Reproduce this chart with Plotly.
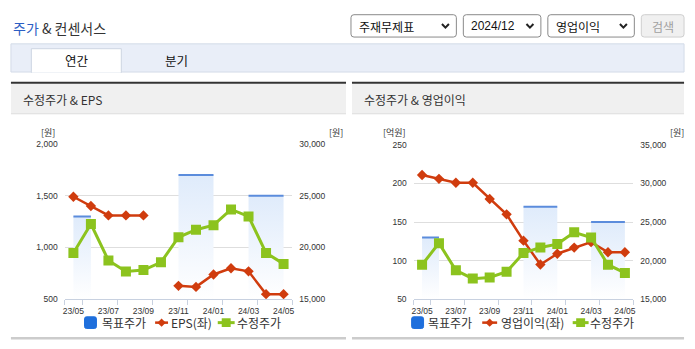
import plotly.graph_objects as go

FIG_W, FIG_H = 695, 349

# ---- data -------------------------------------------------------------
months = ["23/05", "23/06", "23/07", "23/08", "23/09", "23/10", "23/11",
          "23/12", "24/01", "24/02", "24/03", "24/04", "24/05"]
adj_price = [19480, 22270, 18750, 17680, 17820, 18570, 20990,
             21720, 22150, 23680, 23000, 19480, 18420]
eps = [1490, 1400, 1310, 1310, 1310, None, 630,
       620, 740, 800, 770, 550, 550]
op_profit = [211, 206, 201, 201, 180, 160, 126,
             95, 109, 117, 124, 111, 111]

# target price periods (from month, to month, price)
target_start = ["23/05", "23/11", "24/03"]
target_end = ["23/06", "24/01", "24/05"]
target_price = [23000, 27000, 25000]

eps_ticks = [500, 1000, 1500, 2000]
price_ticks_a = [15000, 20000, 25000, 30000]
op_ticks = [50, 100, 150, 200, 250]
price_ticks_b = [15000, 20000, 25000, 30000, 35000]

RED = "#d03c0e"
GREEN = "#8cc31e"
BLUE_LINE = "#5b8cdc"
BLUE_KEY = "#1f6fdc"
TXT = "#333333"
KR = "Noto Sans CJK KR"
NUM = "Liberation Sans, Arial"


def px(x):
    return x / FIG_W


def py(y):
    return 1 - y / FIG_H


idx = list(range(len(months)))
pos = {m: i for i, m in enumerate(months)}

fig = go.Figure()


def add_chart(xa, ya_bars, ya_left, ya_price, left_vals, price_min):
    # target price periods on the base (price) axis, drawn first
    for s, e, p in zip(target_start, target_end, target_price):
        x0, x1 = pos[s], pos[e]
        fig.add_trace(go.Scatter(
            x=[x0, x0, x1, x1, x0], y=[price_min, p, p, price_min, price_min],
            fill="toself", mode="lines", line=dict(width=0),
            fillgradient=dict(type="vertical",
                              colorscale=[[0, "rgba(255,255,255,1)"],
                                          [1, "rgba(223,235,251,1)"]]),
            xaxis=xa, yaxis=ya_bars, showlegend=False, hoverinfo="skip"))
        fig.add_trace(go.Scatter(
            x=[x0, x1], y=[p, p], mode="lines",
            line=dict(color=BLUE_LINE, width=2),
            xaxis=xa, yaxis=ya_bars, showlegend=False, hoverinfo="skip"))
    # left-axis series on the first overlay
    fig.add_trace(go.Scatter(
        x=idx, y=left_vals, mode="lines+markers",
        line=dict(color=RED, width=2.5),
        marker=dict(symbol="diamond", size=8, color=RED),
        xaxis=xa, yaxis=ya_left, showlegend=False))
    # adjusted price on the top overlay
    fig.add_trace(go.Scatter(
        x=idx, y=adj_price, mode="lines+markers",
        line=dict(color=GREEN, width=3),
        marker=dict(symbol="square", size=10, color=GREEN),
        xaxis=xa, yaxis=ya_price, showlegend=False))


add_chart("x", "y", "y2", "y3", eps, price_ticks_a[0])
add_chart("x2", "y4", "y5", "y6", op_profit, price_ticks_b[0])

tickfont = dict(family=NUM, size=8.5, color=TXT)
boundaries = [-0.5] + [i + 0.5 for i in idx[::2]]


def xaxis_cfg(domain, anchor):
    return dict(domain=domain, anchor=anchor, range=[-0.5, len(months) - 0.5],
                tickmode="array", tickvals=idx[::2], ticktext=months[::2],
                ticks="", showline=True, linecolor="#c8d1e0", linewidth=1,
                showgrid=False, zeroline=False, tickfont=tickfont,
                ticklabelstandoff=3,
                minor=dict(tickmode="array", tickvals=boundaries,
                           ticks="outside", ticklen=5, tickcolor="#c8d1e0",
                           showgrid=False),
                fixedrange=True)


def yaxis_cfg(domain, anchor, ticks, **kw):
    d = dict(domain=domain, anchor=anchor, range=[ticks[0], ticks[-1]],
             tickmode="array", tickvals=ticks,
             ticktext=[f"{t:,}" for t in ticks], ticks="",
             showline=False, zeroline=False, tickfont=tickfont,
             ticklabelstandoff=6, fixedrange=True, showgrid=False)
    d.update(kw)
    return d


dom_a = [py(303), py(143)]
dom_b = [py(303), py(144)]
fig.update_layout(
    width=FIG_W, height=FIG_H, margin=dict(l=0, r=0, t=0, b=0),
    paper_bgcolor="white", plot_bgcolor="rgba(0,0,0,0)",
    showlegend=False,
    xaxis=xaxis_cfg([px(63), px(292)], "y"),
    yaxis=yaxis_cfg(dom_a, "x", price_ticks_a, side="right"),
    yaxis2=yaxis_cfg(dom_a, "x", eps_ticks, overlaying="y", side="left",
                     showgrid=True, gridcolor="#dedede", gridwidth=1),
    yaxis3=yaxis_cfg(dom_a, "x", price_ticks_a, overlaying="y", visible=False),
    xaxis2=xaxis_cfg([px(414), px(635)], "y4"),
    yaxis4=yaxis_cfg(dom_b, "x2", price_ticks_b, side="right"),
    yaxis5=yaxis_cfg(dom_b, "x2", op_ticks, overlaying="y4", side="left",
                     showgrid=True, gridcolor="#dedede", gridwidth=1),
    yaxis6=yaxis_cfg(dom_b, "x2", price_ticks_b, overlaying="y4", visible=False),
)

shapes = []
annots = []


def rect(x0, y0, x1, y1, fill, line=None, lw=1, layer="below"):
    shapes.append(dict(type="rect", xref="paper", yref="paper",
                       x0=px(x0), x1=px(x1), y0=py(y1), y1=py(y0),
                       fillcolor=fill,
                       line=dict(color=line or fill, width=lw if line else 0),
                       layer=layer))


def hline(x0, x1, y, color, w):
    shapes.append(dict(type="line", xref="paper", yref="paper",
                       x0=px(x0), x1=px(x1), y0=py(y), y1=py(y),
                       line=dict(color=color, width=w)))


def P(x, y):
    return f"{px(x):.5f},{py(y):.5f}"


def rrect(x0, y0, x1, y1, r, fill, line):
    path = (f"M {P(x0 + r, y0)} L {P(x1 - r, y0)} Q {P(x1, y0)} {P(x1, y0 + r)} "
            f"L {P(x1, y1 - r)} Q {P(x1, y1)} {P(x1 - r, y1)} "
            f"L {P(x0 + r, y1)} Q {P(x0, y1)} {P(x0, y1 - r)} "
            f"L {P(x0, y0 + r)} Q {P(x0, y0)} {P(x0 + r, y0)} Z")
    shapes.append(dict(type="path", xref="paper", yref="paper", path=path,
                       fillcolor=fill, line=dict(color=line, width=1)))


def chevron(cx, cy):
    shapes.append(dict(type="path", xref="paper", yref="paper",
                       path=f"M {P(cx - 3.5, cy - 2)} L {P(cx, cy + 1.8)} L {P(cx + 3.5, cy - 2)}",
                       line=dict(color="#222", width=2)))


def text(x, y, s, size, color=TXT, family=KR, anchor="left"):
    annots.append(dict(x=px(x), y=py(y), xref="paper", yref="paper", text=s,
                       showarrow=False, xanchor=anchor, yanchor="middle",
                       font=dict(family=family, size=size, color=color)))


# page title
text(9, 24, '<span style="color:#2c5ec4">주가</span> & 컨센서스', 14)

# selectors
for (x0, x1, label, fam) in [(351, 457, "주재무제표", KR), (464, 542, "2024/12", NUM),
                             (549, 636, "영업이익", KR)]:
    rrect(x0, 10, x1, 33, 3, "white", "#8a8a8a")
    text(x0 + 6, 22, label, 12, "#111", fam)
    chevron(x1 - 11, 21.5)
rrect(643, 10, 686, 33, 3, "#f0f0f0", "#cfcfcf")
text(664.5, 22, "검색", 12, "#a0a0a0", KR, "center")

# period tabs
rect(9, 40, 686, 69, "#e9eef8", "#d3dbe8")
rect(29.5, 45, 120, 69.5, "white", "#cdd5e2")
hline(30, 119.5, 69.2, "white", 1)
text(75, 57, "연간", 12.5, "#111", KR, "center")
text(176, 57, "분기", 12.5, "#111", KR, "center")

# panel frames
for (x0, x1, title) in [(9, 346, "수정주가 & EPS"), (352, 686, "수정주가 & 영업이익")]:
    rect(x0, 81, x1, 112, "#f0f0f0")
    hline(x0, x1, 112, "#dddddd", 1)
    hline(x0, x1, 80, "#333333", 2)
    hline(x0, x1, 343, "#cccccc", 2.5)
    text(x0 + 10, 97.5, title, 12)

# axis unit labels
text(46, 131, "[원]", 9, anchor="center")
text(336, 131, "[원]", 9, anchor="center")
text(394.5, 131, "[억원]", 9, anchor="center")
text(679, 131, "[원]", 9, anchor="center")


# legends
def diamond(cx, cy, r, color):
    shapes.append(dict(type="path", xref="paper", yref="paper",
                       path=f"M {P(cx, cy - r)} L {P(cx + r, cy)} L {P(cx, cy + r)} L {P(cx - r, cy)} Z",
                       fillcolor=color, line=dict(color=color, width=0)))


def legend(xb, xr0, xr1, xt2, xg0, xg1, xt3, xt1, name2):
    ly = 327
    rrect(xb, ly - 6, xb + 12, ly + 6, 2, BLUE_KEY, BLUE_KEY)
    text(xt1, ly, "목표주가", 12)
    hline(xr0, xr1, ly, RED, 2.5)
    diamond((xr0 + xr1) / 2, ly, 4.2, RED)
    text(xt2, ly, name2, 12)
    hline(xg0, xg1, ly, GREEN, 3)
    cg = (xg0 + xg1) / 2
    rect(cg - 4.5, ly - 4.5, cg + 4.5, ly + 4.5, GREEN, layer="above")
    text(xt3, ly, "수정주가", 12)


legend(83, 154, 167, 168, 217, 234, 234, 99, "EPS(좌)")
legend(412, 483, 498, 500, 574, 590, 589, 426, "영업이익(좌)")

fig.update_layout(shapes=shapes, annotations=annots)
fig.write_html("out.html")
